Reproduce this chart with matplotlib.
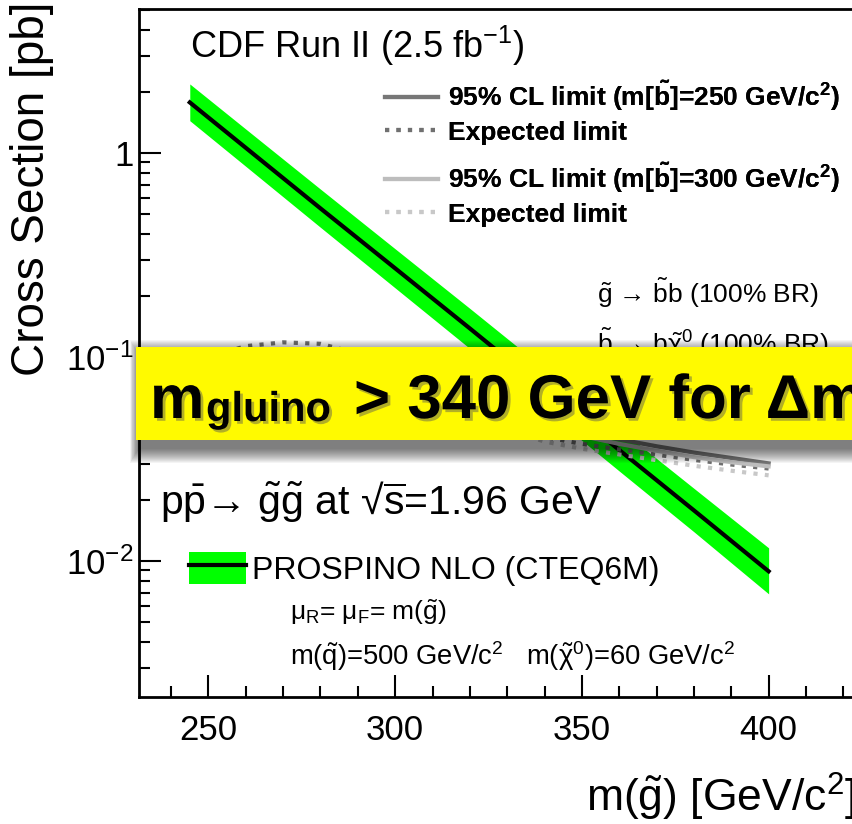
import numpy as np
import matplotlib.pyplot as plt
import matplotlib.patheffects as pe
from matplotlib.patches import Rectangle, Patch
from matplotlib.legend_handler import HandlerTuple
from matplotlib.ticker import LogLocator, NullFormatter, MultipleLocator

plt.rcParams['font.family'] = ['Liberation Sans', 'DejaVu Sans']
plt.rcParams['mathtext.fontset'] = 'custom'
plt.rcParams['mathtext.rm'] = 'Liberation Sans'
plt.rcParams['mathtext.it'] = 'Liberation Sans'
plt.rcParams['mathtext.bf'] = 'Liberation Sans:bold'

# PROSPINO NLO gluino pair cross section [pb] with scale/PDF band
mass_nlo = [245, 260, 280, 300, 320, 340, 360, 380, 400]
xsec_nlo = [1.77, 1.06, 0.535, 0.272, 0.138, 0.0695, 0.035, 0.0177, 0.0089]
xsec_up = [2.18, 1.31, 0.665, 0.339, 0.173, 0.0876, 0.0445, 0.0227, 0.0116]
xsec_dn = [1.44, 0.86, 0.432, 0.218, 0.110, 0.0551, 0.0276, 0.0139, 0.0069]

# 95% CL limits (mostly hidden under the banner)
mass_lim = [240, 250, 260, 270, 280, 290, 300, 310, 320, 330, 340, 350, 360, 370, 380, 390, 400]
obs_250 = [0.080, 0.094, 0.103, 0.106, 0.104, 0.096, 0.085, 0.073, 0.062, 0.054, 0.048, 0.043, 0.0395, 0.0365, 0.034, 0.032, 0.0301]
exp_250 = [0.088, 0.100, 0.113, 0.118, 0.116, 0.104, 0.086, 0.069, 0.055, 0.046, 0.0405, 0.0375, 0.0352, 0.0332, 0.0313, 0.0297, 0.0284]
obs_300 = [0.075, 0.088, 0.097, 0.101, 0.099, 0.092, 0.081, 0.070, 0.060, 0.052, 0.046, 0.041, 0.0375, 0.0347, 0.0323, 0.0305, 0.0291]
exp_300 = [0.080, 0.094, 0.104, 0.108, 0.106, 0.098, 0.081, 0.065, 0.052, 0.044, 0.0385, 0.0355, 0.0333, 0.0312, 0.0293, 0.0277, 0.0263]

x_ticks = [250, 300, 350, 400]
y_ticks = [0.01, 0.1, 1]
y_ticklabels = ['$10^{-2}$', '$10^{-1}$', '1']

W, H = 852, 824
def fx(x):
    return x / W
def fy(y):
    return 1 - y / H

fig = plt.figure(figsize=(W / 100, H / 100), dpi=100)
ax = fig.add_axes([fx(139), fy(697), 1.002, (697 - 9) / H])
ax.set_xlim(231.4, 460)
ax.set_yscale('log')
ax.set_ylim(0.002154, 5.08)

band = ax.fill_between(mass_nlo, xsec_dn, xsec_up, color='#00ff00', lw=0, zorder=2)
nlo_line, = ax.plot(mass_nlo, xsec_nlo, color='black', lw=3, zorder=3)

dots = (0, (1.0, 1.75))
l_obs250, = ax.plot(mass_lim, obs_250, color='#777777', lw=3, zorder=4)
l_exp250, = ax.plot(mass_lim, exp_250, color='#707070', lw=3, ls=dots, zorder=4)
l_obs300, = ax.plot(mass_lim, obs_300, color='#bdbdbd', lw=3, zorder=4)
l_exp300, = ax.plot(mass_lim, exp_300, color='#c8c8c8', lw=3, ls=dots, zorder=4)

ax.set_xticks(x_ticks)
ax.xaxis.set_minor_locator(MultipleLocator(10))
ax.set_yticks(y_ticks, labels=y_ticklabels)
ax.yaxis.set_minor_locator(LogLocator(base=10, subs=range(2, 10)))
ax.yaxis.set_minor_formatter(NullFormatter())
ax.tick_params(which='both', direction='in', top=False, right=False, width=1.5)
ax.tick_params(which='major', length=16, labelsize=25)
ax.tick_params(axis='x', which='major', pad=12)
ax.tick_params(axis='y', which='major', pad=4)
ax.tick_params(which='minor', length=8)
for s in ax.spines.values():
    s.set_linewidth(2)

fig.text(fx(32), fy(2), 'Cross Section [pb]', rotation=90, ha='center', va='top', fontsize=33)
fig.text(fx(586), fy(812), r'm($\tilde{g}$) [GeV/c$^{2}$]', ha='left', va='baseline', fontsize=32)

fig.text(fx(190), fy(58), r'CDF Run II (2.5 fb$^{-1}$)', ha='left', va='baseline', fontsize=26)

bold = {'weight': 'bold', 'size': 19}
leg1 = fig.legend([l_obs250, l_exp250],
                  [r'95% CL limit (m[$\mathbf{\tilde{b}}$]=250 GeV/c$^{\mathbf{2}}$)', 'Expected limit'],
                  loc='upper left', bbox_to_anchor=(fx(385), fy(78)), frameon=False, prop=bold,
                  handlelength=2.0, handletextpad=0.4, borderpad=0, borderaxespad=0, labelspacing=0.3)
leg2 = fig.legend([l_obs300, l_exp300],
                  [r'95% CL limit (m[$\mathbf{\tilde{b}}$]=300 GeV/c$^{\mathbf{2}}$)', 'Expected limit'],
                  loc='upper left', bbox_to_anchor=(fx(385), fy(160)), frameon=False, prop=bold,
                  handlelength=2.0, handletextpad=0.4, borderpad=0, borderaxespad=0, labelspacing=0.3)
fig.add_artist(leg1)

fig.text(fx(597), fy(303), r'$\tilde{g}$ → $\tilde{b}$b (100% BR)', ha='left', va='baseline', fontsize=19)
fig.text(fx(597), fy(353), r'$\tilde{b}$ → b$\tilde{\chi}^{0}$ (100% BR)', ha='left', va='baseline', fontsize=19)

fig.text(fx(160), fy(514), r'p$\bar{p}$→ $\tilde{g}\tilde{g}$ at √$\overline{s}$=1.96 GeV', ha='left', va='baseline', fontsize=29.5)

band_key = Patch(facecolor='#00ff00', lw=0)
leg3 = fig.legend([(band_key, nlo_line)], ['PROSPINO NLO (CTEQ6M)'],
                  handler_map={tuple: HandlerTuple(ndivide=1, pad=0)},
                  loc='upper left', bbox_to_anchor=(fx(189), fy(552)), frameon=False,
                  prop={'size': 23}, handlelength=1.78, handleheight=1.15, handletextpad=0.2,
                  borderpad=0, borderaxespad=0)
fig.add_artist(leg2)

fig.text(fx(290), fy(620), r'$\mu_{R}$= $\mu_{F}$= m($\tilde{g}$)', ha='left', va='baseline', fontsize=19)
fig.text(fx(290), fy(665), r'm($\tilde{q}$)=500 GeV/c$^{2}$   m($\tilde{\chi}^{0}$)=60 GeV/c$^{2}$',
         ha='left', va='baseline', fontsize=19.7)

# yellow banner with a soft drop shadow
for k in range(1, 16):
    fig.add_artist(Rectangle((fx(139 - k * 0.6), fy(448 + k)), 1.2, (93 + 2 * k) / H,
                             transform=fig.transFigure, facecolor='black', edgecolor='none',
                             alpha=0.045, zorder=9))
fig.add_artist(Rectangle((fx(136), fy(440)), 1.2, 93 / H, transform=fig.transFigure,
                         facecolor='#fffa00', edgecolor='none', zorder=10))
shadow = [pe.withSimplePatchShadow(offset=(2, -2), shadow_rgbFace='#555555', alpha=0.45)]
fig.text(fx(150), fy(418), 'm', ha='left', va='baseline', fontsize=44, weight='bold',
         zorder=11, path_effects=shadow)
fig.text(fx(206), fy(421), 'gluino', ha='left', va='baseline', fontsize=30, weight='bold',
         zorder=11, path_effects=shadow)
fig.text(fx(354), fy(418), '> 340 GeV for Δm', ha='left', va='baseline', fontsize=44.5, weight='bold',
         zorder=11, path_effects=shadow)

fig.savefig('out.png', dpi=100)
